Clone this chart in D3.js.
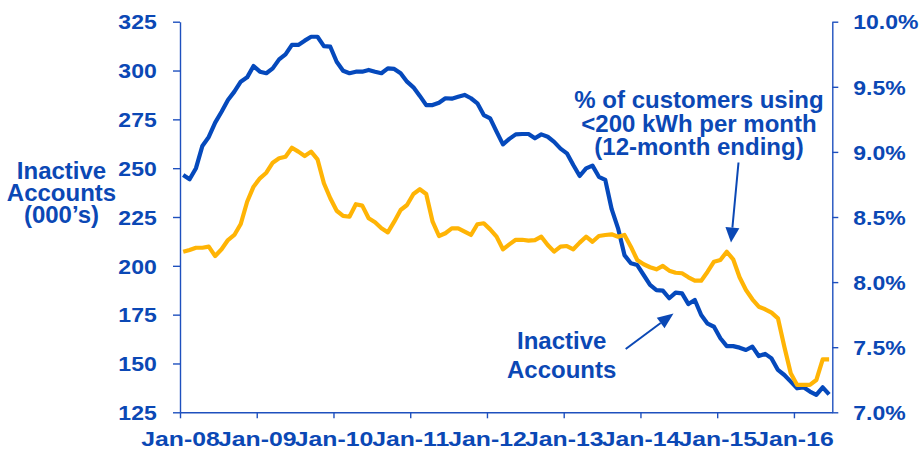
<!DOCTYPE html>
<html>
<head>
<meta charset="utf-8">
<script src="https://cdn.jsdelivr.net/npm/d3@7"></script>
<style>
  html, body { margin: 0; padding: 0; background: #fff; }
  svg { display: block; }
  text { font-family: "Liberation Sans", Arial, Helvetica, sans-serif; font-weight: bold; }
</style>
</head>
<body>
<svg id="chart" width="921" height="452"></svg>
<script>
// ---------- DATA (monthly, Jan-08 .. Jun-16) ----------
const startMonth = "Jan-08";
const tickLabels = ["Jan-08","Jan-09","Jan-10","Jan-11","Jan-12","Jan-13","Jan-14","Jan-15","Jan-16"];
const leftTicks = [125,150,175,200,225,250,275,300,325];
const rightTicks = [7.0,7.5,8.0,8.5,9.0,9.5,10.0];

// Inactive accounts (000's) – left axis
const inactiveAccounts = [
  246.5,244.3,250.0,261.4,266.0,273.3,278.9,284.9,289.2,294.3,296.5,302.3,
  299.4,298.6,301.1,305.7,308.3,313.1,313.1,315.3,317.3,317.3,312.5,312.2,
  304.5,299.9,298.6,299.4,299.4,300.3,299.4,298.6,301.1,300.8,298.6,294.3,
  291.4,287.0,282.3,282.3,283.5,285.8,285.6,286.6,287.5,285.8,283.2,277.2,
  275.5,268.7,262.2,265.0,267.3,267.5,267.5,265.3,267.3,266.1,263.5,260.0,
  257.6,251.6,246.0,249.9,251.3,245.6,244.0,229.0,219.2,205.5,201.3,200.4,
  195.3,190.2,187.6,187.3,183.4,186.3,185.9,180.4,182.5,174.8,170.4,168.8,
  162.9,158.9,158.9,158.1,156.9,158.6,153.8,154.9,152.6,146.7,144.1,140.7,
  137.3,137.8,135.6,133.9,137.8,134.2
];

// % of customers using <200 kWh per month (12-month ending) – right axis
const lowUsagePct = [
  8.233,8.247,8.264,8.264,8.272,8.200,8.252,8.323,8.362,8.446,8.617,8.733,
  8.797,8.840,8.917,8.951,8.963,9.032,9.002,8.968,9.002,8.943,8.759,8.644,
  8.548,8.508,8.502,8.598,8.587,8.490,8.459,8.413,8.382,8.464,8.554,8.592,
  8.677,8.713,8.677,8.464,8.354,8.375,8.413,8.413,8.387,8.362,8.444,8.452,
  8.405,8.349,8.252,8.290,8.325,8.325,8.318,8.323,8.349,8.285,8.234,8.272,
  8.277,8.252,8.303,8.349,8.310,8.354,8.362,8.367,8.349,8.362,8.272,8.170,
  8.137,8.114,8.098,8.124,8.088,8.072,8.068,8.037,8.011,8.011,8.080,8.157,
  8.170,8.233,8.175,8.037,7.939,7.868,7.811,7.791,7.765,7.722,7.504,7.300,
  7.210,7.210,7.210,7.248,7.407,7.407
];

// ---------- STYLE ----------
const textBlue = "#0B48B5";
const axisBlue = "#1E50BE";
const lineBlue = "#0549BC";
const lineGold = "#FFB405";
const tickFont = 20, tickStretch = 1.15, bottomStretch = 1.21;

const svg = d3.select("#chart");
svg.append("rect").attr("width", 921).attr("height", 452).attr("fill", "#fff");

const plotLeft = 180, plotRight = 832.3, plotTop = 21.7, plotBottom = 412.3;
const x = d3.scaleLinear().domain([0, 102]).range([plotLeft, plotRight]);
const yL = d3.scaleLinear().domain([125, 325]).range([plotBottom, plotTop]);
const yR = d3.scaleLinear().domain([7, 10]).range([plotBottom, plotTop]);

function styleAxis(g) {
  g.select(".domain").attr("stroke", axisBlue).attr("stroke-width", 1.4);
  g.selectAll(".tick line").attr("stroke", axisBlue).attr("stroke-width", 1.4);
  g.selectAll(".tick text").attr("fill", textBlue).style("font-size", tickFont + "px")
    .style("font-family", '"Liberation Sans", Arial, sans-serif').style("font-weight", "bold");
}

// Left axis
const gL = svg.append("g").attr("transform", `translate(${plotLeft},0)`)
  .call(d3.axisLeft(yL).tickValues(leftTicks).tickSize(7).tickSizeOuter(0).tickFormat(d3.format("d")));
styleAxis(gL);
gL.selectAll(".tick text").attr("x", -23.3 / tickStretch).attr("dy", "0.36em")
  .attr("transform", `scale(${tickStretch},1)`);

// Right axis
const gR = svg.append("g").attr("transform", `translate(${plotRight},0)`)
  .call(d3.axisRight(yR).tickValues(rightTicks).tickSize(6).tickSizeOuter(0).tickFormat(d => d.toFixed(1) + "%"));
styleAxis(gR);
gR.selectAll(".tick text").attr("x", 21 / tickStretch).attr("dy", "0.36em")
  .attr("transform", `scale(${tickStretch},1)`);

// Bottom axis
const gB = svg.append("g").attr("transform", `translate(0,${plotBottom})`)
  .call(d3.axisBottom(x).tickValues(tickLabels.map((_, i) => i * 12)).tickSize(6).tickSizeOuter(0)
    .tickFormat((d, i) => tickLabels[i]));
styleAxis(gB);
gB.selectAll(".tick text").attr("y", 34).attr("dy", 0).style("font-size", "20.5px")
  .attr("transform", `scale(${bottomStretch},1)`);

// Lines (points at mid-month)
const lineL = d3.line().x((d, i) => x(i + 0.5)).y(d => yL(d));
const lineR = d3.line().x((d, i) => x(i + 0.5)).y(d => yR(d));

svg.append("path").datum(inactiveAccounts).attr("d", lineL)
  .attr("fill", "none").attr("stroke", lineBlue).attr("stroke-width", 4.2)
  .attr("stroke-linejoin", "round");
svg.append("path").datum(lowUsagePct).attr("d", lineR)
  .attr("fill", "none").attr("stroke", lineGold).attr("stroke-width", 4.2)
  .attr("stroke-linejoin", "round");

// Left axis title
const lt = svg.append("text").attr("fill", textBlue).attr("text-anchor", "middle").style("font-size", "24px");
[["Inactive", 179.3], ["Accounts", 200.8], ["(000\u2019s)", 222.5]].forEach(([t, yy]) =>
  lt.append("tspan").attr("x", 61.5).attr("y", yy).text(t));

// Annotation: % of customers
const a1 = svg.append("text").attr("fill", textBlue).attr("text-anchor", "middle").style("font-size", "24px");
[["% of customers using", 108.3], ["<200 kWh per month", 131.7], ["(12-month ending)", 155]].forEach(([t, yy]) =>
  a1.append("tspan").attr("x", 699).attr("y", yy).text(t));

// Annotation: Inactive Accounts
const a2 = svg.append("text").attr("fill", textBlue).attr("text-anchor", "middle").style("font-size", "24px");
[["Inactive", 349.3], ["Accounts", 377.8]].forEach(([t, yy]) =>
  a2.append("tspan").attr("x", 561.7).attr("y", yy).text(t));

// Arrows
function arrow(x1, y1, x2, y2, len, wid) {
  const dx = x2 - x1, dy = y2 - y1, L = Math.hypot(dx, dy);
  const ux = dx / L, uy = dy / L;
  const bx = x2 - ux * len, by = y2 - uy * len;
  svg.append("line").attr("x1", x1).attr("y1", y1).attr("x2", bx).attr("y2", by)
    .attr("stroke", textBlue).attr("stroke-width", 2);
  const px = -uy * wid / 2, py = ux * wid / 2;
  svg.append("path")
    .attr("d", `M${x2},${y2}L${bx + px},${by + py}L${bx - px},${by - py}Z`)
    .attr("fill", textBlue);
}
arrow(738.5, 162.5, 731, 242.5, 15, 14);
arrow(625.7, 349, 673.5, 313.5, 16, 13);
</script>
</body>
</html>
